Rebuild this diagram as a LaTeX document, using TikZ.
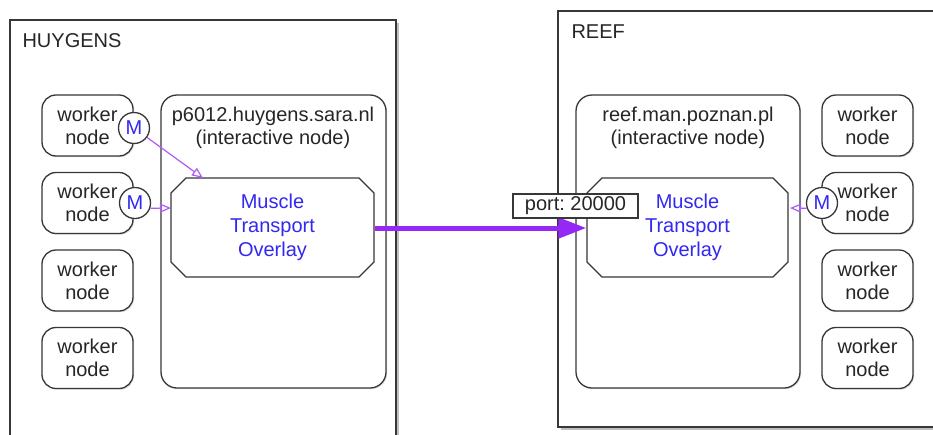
\documentclass[tikz,border=0pt]{standalone}
\usepackage{fontspec}
\setmainfont{Liberation Sans}
\usetikzlibrary{arrows.meta,shapes.misc,shadows,calc}
\definecolor{linegray}{RGB}{55,55,55}
\definecolor{arrowpurple}{RGB}{150,40,245}
\definecolor{lightpurple}{RGB}{175,90,250}
\definecolor{mtoblue}{RGB}{50,40,240}
\begin{document}
\begin{tikzpicture}[x=1pt,y=-1pt,
  every node/.style={font=\fontsize{20pt}{23pt}\selectfont, text=black!85},
  outer/.style={draw=linegray, line width=1.6pt, fill=white,
    drop shadow={shadow xshift=2.5pt, shadow yshift=-2.5pt, opacity=0.5}},
  ibox/.style={draw=linegray, line width=1.3pt, fill=white, rounded corners=16pt,
    minimum width=225pt, minimum height=293pt, inner sep=0pt,
    drop shadow={shadow xshift=1.2pt, shadow yshift=-1.2pt, opacity=0.25}},
  worker/.style={draw=linegray, line width=1.3pt, fill=white, rounded corners=14pt,
    minimum width=91pt, minimum height=61pt, inner sep=0pt, align=center,
    drop shadow={shadow xshift=1.2pt, shadow yshift=-1.2pt, opacity=0.25}},
  mto/.style={draw=linegray, line width=1.3pt, fill=white, chamfered rectangle,
    chamfered rectangle xsep=7.5pt, chamfered rectangle ysep=7.5pt,
    minimum width=203pt, minimum height=99pt, inner sep=0pt, align=center,
    text=mtoblue, font=\fontsize{20pt}{24pt}\selectfont},
  mnode/.style={circle, draw=linegray, line width=1.3pt, fill=white,
    minimum size=31pt, inner sep=0pt, text=mtoblue},
  thinarrow/.style={draw=lightpurple, line width=1.2pt,
    -{Triangle[open, length=11pt, width=9pt]}},
  thickarrow/.style={draw=arrowpurple, line width=5pt,
    -{Triangle[length=28pt, width=20pt]}},
  portbox/.style={draw=linegray, line width=1.2pt, fill=white,
    minimum width=125pt, minimum height=24pt, inner sep=0pt},
  title/.style={align=center}
]
\useasboundingbox (0,0) rectangle (933,434);
\clip (0,0) rectangle (933,434);

% outer clusters
\path[outer] (10,20) rectangle (396,440);
\path[outer] (558,11) rectangle (945,427);
\node[anchor=base west] (huy) at (19,47) {HUYGENS};
\node[anchor=base west] (reef) at (568,38) {REEF};

% interactive nodes
\node[ibox] (ibL) at (273.5,241.5) {};
\node[ibox, minimum width=224pt] (ibR) at (688,241.5) {};
\node[title] (ibLt) at (273,127.5) {p6012.huygens.sara.nl\\(interactive node)};
\node[title] (ibRt) at (688,127.5) {reef.man.poznan.pl\\(interactive node)};

% muscle transport overlays
\node[mto] (mtoL) at (272.5,227.5) {Muscle\\Transport\\Overlay};
\node[mto, minimum width=201pt] (mtoR) at (687.5,227.5) {Muscle\\Transport\\Overlay};

% worker nodes left
\node[worker] (wL1) at (87.5,125.5) {worker\\node};
\node[worker] (wL2) at (87.5,203) {worker\\node};
\node[worker] (wL3) at (87.5,280.5) {worker\\node};
\node[worker] (wL4) at (87.5,358) {worker\\node};
% worker nodes right
\node[worker] (wR1) at (867.5,125.5) {worker\\node};
\node[worker] (wR2) at (867.5,203) {worker\\node};
\node[worker] (wR3) at (867.5,280.5) {worker\\node};
\node[worker] (wR4) at (867.5,358) {worker\\node};

% M markers
\node[mnode] (m1) at (134,128) {M};
\node[mnode] (m2) at (135,203) {M};
\node[mnode] (m3) at (822,203) {M};

% arrow targets on the overlays
\coordinate (t1) at (203,178);
\coordinate (t2) at (171,208);
\coordinate (t3) at (790,208);

\draw[thinarrow] (m1) -- (t1);
\draw[thinarrow] (m2.-19) -- (t2);
\draw[thinarrow] (m3.199) -- (t3);

% thick connection
\draw[thickarrow] (mtoL.east |- 0,228) -- (mtoR.west |- 0,228);

% port label
\node[portbox] (port) at (575.5,206) {port:\ 20000};
\end{tikzpicture}
\end{document}
